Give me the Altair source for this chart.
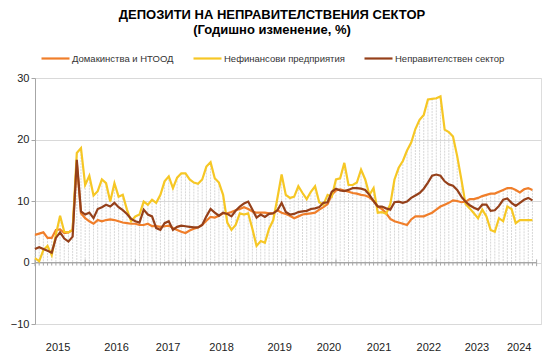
import altair as alt
import pandas as pd

series_names = ["Домакинства и НТООД", "Нефинансови предприятия", "Неправителствен сектор"]
series_colors = ["#F07E2A", "#F6C725", "#95401A"]

households = [4.5, 4.7, 4.9, 4.0, 4.0, 5.3, 5.4, 4.8, 4.9, 5.3,
              16.2, 8.0, 7.2, 6.7, 6.3, 6.9, 6.7, 6.9, 7.0, 6.9,
              6.7, 6.5, 6.4, 6.3, 6.3, 6.1, 6.1, 6.3, 5.9, 5.9,
              5.8, 5.9, 6.0, 5.6, 5.3, 5.0, 4.8, 5.2, 5.5, 5.7,
              6.1, 6.8, 7.4, 7.3, 7.6, 8.0, 8.0, 8.2, 8.5, 8.7,
              9.0, 8.7, 8.3, 8.1, 8.1, 8.1, 8.0, 8.0, 8.5, 8.1,
              7.9, 7.6, 7.2, 7.5, 7.8, 7.9, 8.0, 8.1, 8.6, 9.0,
              9.5, 11.0, 11.7, 11.9, 11.7, 11.5, 11.3, 11.2, 11.0, 10.9,
              10.6, 10.0, 9.1, 8.7, 8.0, 7.1, 6.7, 6.5, 6.3, 6.1,
              7.0, 7.5, 7.5, 7.5, 7.8, 8.1, 8.6, 9.1, 9.4, 9.7,
              10.1, 10.0, 9.8, 9.9, 10.3, 10.3, 10.5, 10.8, 11.0, 11.2,
              11.2, 11.5, 11.8, 12.1, 12.1, 11.8, 11.4, 11.9, 12.1, 11.8]

nonfinancial = [0.7, 0.2, 2.0, 2.7, 1.2, 4.5, 7.6, 5.0, 4.9, 5.3,
                17.8, 18.6, 12.6, 14.1, 10.9, 11.6, 13.5, 12.9, 9.9, 12.9,
                10.7, 11.0, 8.6, 6.7, 7.5, 7.8, 9.9, 9.4, 10.2, 9.7,
                11.0, 13.2, 14.0, 12.1, 13.8, 14.5, 14.5, 13.5, 13.0, 12.8,
                13.5, 15.6, 16.3, 13.7, 13.0, 11.0, 6.5, 5.3, 6.1, 8.0,
                7.8, 8.0, 5.5, 2.7, 3.5, 3.2, 5.5, 6.9, 10.5, 14.3,
                11.0, 10.5, 10.7, 12.4, 11.3, 10.3, 11.5, 12.4, 9.8, 9.4,
                11.0, 10.7, 13.5, 13.7, 16.2, 12.6, 12.6, 13.0, 15.1, 13.5,
                11.0, 12.1, 8.1, 8.2, 7.9, 9.5, 13.5, 15.4, 16.5, 18.2,
                19.5, 21.7, 23.2, 24.0, 26.5, 26.6, 26.7, 27.0, 21.6, 21.2,
                20.5, 17.3, 13.5, 9.5, 8.8, 8.0, 7.2, 8.6, 7.5, 5.3,
                5.0, 7.2, 6.7, 9.1, 8.7, 6.4, 6.9, 6.9, 6.9, 6.9]

nongovernment = [2.2, 2.5, 2.2, 1.9, 1.6, 4.0, 4.9, 3.9, 3.4, 4.2,
                 16.7, 8.3, 7.8, 8.1, 7.2, 8.7, 9.0, 9.4, 9.1, 9.7,
                 9.0, 8.5, 7.9, 7.1, 6.7, 6.5, 8.6, 7.8, 7.5, 5.6,
                 5.3, 6.4, 6.7, 5.3, 5.8, 6.0, 5.9, 5.8, 5.7, 5.7,
                 6.1, 7.5, 8.7, 8.1, 7.6, 8.1, 7.9, 7.5, 8.4, 9.1,
                 9.6, 9.9, 8.6, 7.3, 7.8, 7.4, 7.9, 8.0, 8.5, 9.7,
                 8.2, 7.8, 7.9, 8.2, 8.3, 8.4, 8.7, 8.8, 9.0, 9.7,
                 9.8, 11.5, 12.0, 11.7, 11.6, 11.8, 12.1, 12.1, 12.0, 11.8,
                 11.0, 10.0, 9.1, 9.1, 8.8, 8.6, 9.8, 9.9, 9.7, 9.9,
                 10.5, 10.9, 11.3, 12.0, 13.0, 14.1, 14.3, 14.1, 13.2, 12.7,
                 12.5, 11.8, 10.7, 9.9, 9.3, 8.9, 8.6, 9.4, 9.4, 8.4,
                 8.5, 9.2, 10.2, 10.4, 9.7, 9.2, 9.7, 10.2, 10.5, 10.1]

year_labels = ["2015", "2016", "2017", "2018", "2019", "2020", "2021", "2022", "2023", "2024"]
y_ticks = [-10, -5, 0, 5, 10, 15, 20, 25, 30]

n = len(households)
months = list(range(n))

rows = []
for name, vals in zip(series_names, [households, nonfinancial, nongovernment]):
    for m, v in zip(months, vals):
        rows.append({"m": m, "v": v, "s": name})
df = pd.DataFrame(rows)

df_drop = pd.DataFrame({
    "m": months,
    "hi": [max(a, b, c) for a, b, c in zip(households, nonfinancial, nongovernment)],
    "lo": [0] * n,
})

n_slots = n + 1
tick_rows = []
for t in range(n_slots):
    major = t % 12 == 0
    tick_rows.append({"t": t, "y0": 0.5 if major else 0.0, "y1": -0.6 if major else -0.5})
df_ticks = pd.DataFrame(tick_rows)

label_positions = [5.4, 19.4, 31.7, 44.5, 58.4, 70.2, 82.2, 94.1, 105.6, 115.7]
label_expr = "[" + ",".join("'" + y + "'" for y in year_labels) + "][floor(datum.value / 12)]"

FONT = "Liberation Sans"
xs = alt.Scale(domain=[0, n_slots + 0.05], nice=False, zero=False)
ys = alt.Scale(domain=[-10, 30], nice=False, zero=False)

xaxis = alt.Axis(values=label_positions, labelExpr=label_expr, domain=False, ticks=False,
                 grid=False, title=None, labelFont=FONT, labelFontSize=11, labelColor="#222222",
                 labelPadding=17, labelAngle=0)
yaxis = alt.Axis(values=y_ticks, title=None, grid=True, gridColor="#d9d9d9", gridWidth=1,
                 domain=True, domainColor="#a6a6a6", tickColor="#a6a6a6", tickSize=4,
                 labelFont=FONT, labelFontSize=11, labelColor="#222222", labelPadding=2)

drop = alt.Chart(df_drop).mark_rule(color="#cdcdcd", strokeWidth=0.8, strokeDash=[2, 1]).encode(
    x=alt.X("m:Q", scale=xs, axis=xaxis),
    y=alt.Y("hi:Q", scale=ys, axis=yaxis),
    y2="lo:Q",
)

zero = alt.Chart(df_ticks).mark_rule(color="#a6a6a6", strokeWidth=1).encode(
    x=alt.X("min(t):Q", scale=xs, axis=xaxis),
    x2="max(t):Q",
    y=alt.datum(0, scale=ys),
)

ticks = alt.Chart(df_ticks).mark_rule(color="#a6a6a6", strokeWidth=1).encode(
    x=alt.X("t:Q", scale=xs, axis=xaxis),
    y=alt.Y("y0:Q", scale=ys, axis=yaxis),
    y2="y1:Q",
)

lines = alt.Chart(df).mark_line(strokeWidth=2.2).encode(
    x=alt.X("m:Q", scale=xs, axis=xaxis),
    y=alt.Y("v:Q", scale=ys, axis=yaxis),
    color=alt.Color("s:N", scale=alt.Scale(domain=series_names, range=series_colors),
                    sort=series_names,
                    legend=alt.Legend(orient="none", legendX=5, legendY=-35, direction="horizontal",
                                      columns=3, title=None, symbolType="stroke", symbolSize=784,
                                      symbolStrokeWidth=2.2, labelFont=FONT, labelFontSize=9.5,
                                      labelColor="#333333", labelOffset=1, columnPadding=15,
                                      padding=0)),
)

chart = alt.layer(drop, zero, ticks, lines).properties(
    width=506,
    height=246,
    autosize=alt.AutoSizeParams(type="none"),
    padding={"left": 35, "top": 78, "right": 9, "bottom": 33},
    title=alt.TitleParams(
        text="ДЕПОЗИТИ НА НЕПРАВИТЕЛСТВЕНИЯ СЕКТОР",
        subtitle="(Годишно изменение, %)",
        font=FONT, fontSize=13, fontWeight="bold", color="#000000",
        subtitleFont=FONT, subtitleFontSize=13, subtitleFontWeight="bold", subtitleColor="#000000",
        subtitlePadding=2, anchor="middle", frame="group", offset=6, dx=-16,
    ),
).configure_view(stroke="#d9d9d9", strokeWidth=1).configure(background="white")

chart.save("out.html", embed_options={"renderer": "svg", "actions": False})
